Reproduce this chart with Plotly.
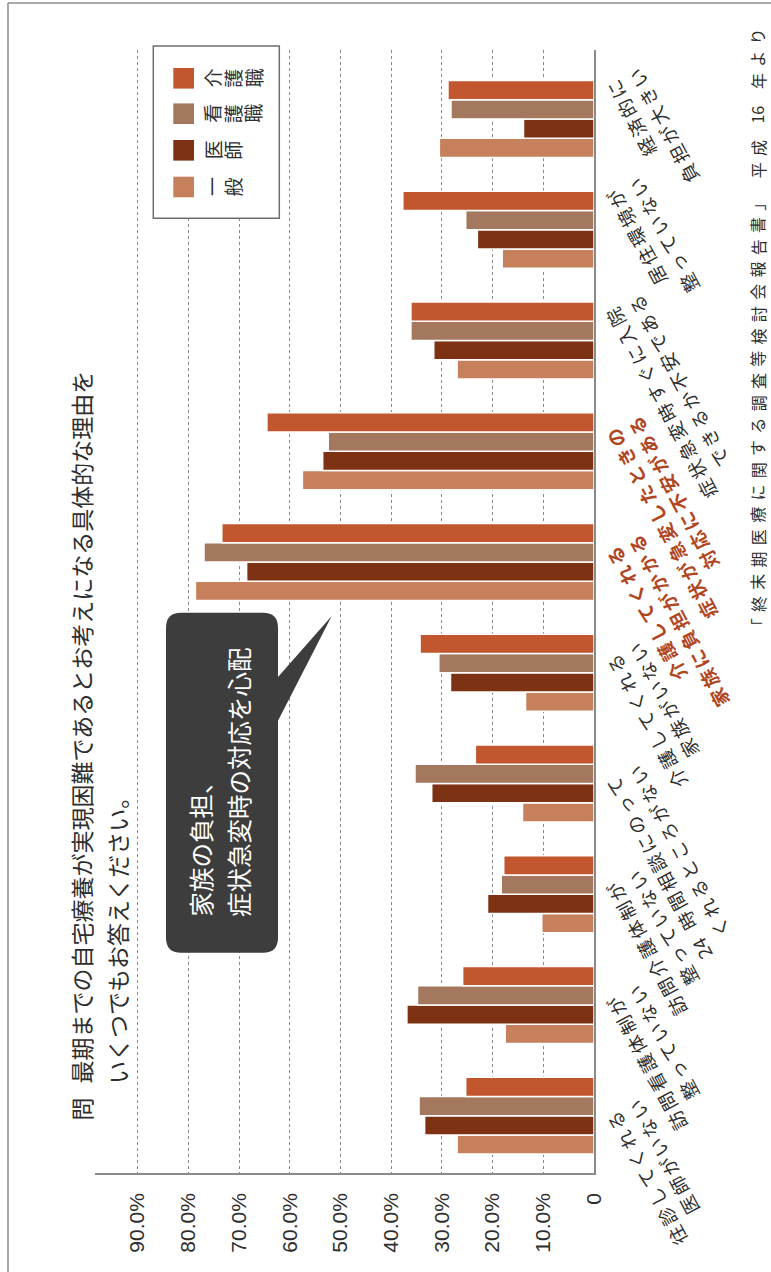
import math
import plotly.graph_objects as go

# ---- data -------------------------------------------------------------
categories = [
    "往診してくれる医師がいない",
    "訪問看護体制が整っていない",
    "訪問介護体制が整っていない",
    "24 時間相談にのってくれるところがない",
    "介護してくれる家族がいない",
    "介護してくれる家族に負担がかかる",
    "症状が急変したときの対応に不安がある",
    "症状急変時すぐに入院できるか不安である",
    "居住環境が整っていない",
    "経済的に負担が大きい",
]
category_lines = [
    ["往診してくれる", "医師がいない"],
    ["訪問看護体制が", "整っていない"],
    ["訪問介護体制が", "整っていない"],
    ["24 時間相談にのって", "くれるところがない"],
    ["介護してくれる", "家族がいない"],
    ["介護してくれる", "家族に負担がかかる"],
    ["症状が急変したときの", "対応に不安がある"],
    ["症状急変時すぐに入院", "できるか不安である"],
    ["居住環境が", "整っていない"],
    ["経済的に", "負担が大きい"],
]
highlighted = ["介護してくれる家族に負担がかかる", "症状が急変したときの対応に不安がある"]

series_names = ["介護職", "看護職", "医師", "一般"]
kaigo = [25.3, 25.9, 17.8, 23.4, 34.3, 73.4, 64.5, 36.1, 37.7, 28.8]
kango = [34.5, 34.8, 18.3, 35.3, 30.6, 76.9, 52.4, 36.1, 25.3, 28.2]
ishi = [33.4, 36.9, 21.0, 32.0, 28.3, 68.5, 53.5, 31.6, 23.0, 13.9]
ippan = [27.0, 17.5, 10.3, 14.1, 13.5, 78.6, 57.5, 27.0, 18.1, 30.5]

tick_values = [0, 10, 20, 30, 40, 50, 60, 70, 80, 90]
tick_labels = ["0", "10.0%", "20.0%", "30.0%", "40.0%", "50.0%", "60.0%", "70.0%", "80.0%", "90.0%"]

title_mark = "問"
title_lines = ["最期までの自宅療養が実現困難であるとお考えになる具体的な理由を", "いくつでもお答えください。"]
callout_lines = ["家族の負担、", "症状急変時の対応を心配"]
source_note = "「終末期医療に関する調査等検討会報告書」 平成 16 年より"

# ---- styling ----------------------------------------------------------
W, H = 771, 1272
L, R, T, B = 95, 594, 50, 1173          # plot area in page pixels
colors = {"介護職": "#c1562f", "看護職": "#a3785e", "医師": "#7e3214", "一般": "#c6805c"}
JP = "Noto Sans CJK JP"
TEXT = "#2e2e2e"
RED = "#b0461f"

# slanted category captions: end of the first line relative to the axis / group centre
LABEL_ANGLE = -118
LABEL_PITCH = 21.5
LABEL_LEADING = 25
LABEL_DX = 22
label_end_dy = [6, 2, -2, 4, -8, -5, -13, -23, -30, -29]


def px(x):
    return (x - L) / (R - L)


def py(y):
    return (B - y) / (B - T)


def tokens_of(text):
    toks = []
    for ch in text:
        if ch.isascii() and ch.isdigit() and toks and toks[-1].isascii() and toks[-1].isdigit():
            toks[-1] += ch
        else:
            toks.append(ch)
    return toks


def token_width(tok):
    if tok == " ":
        return 0.4
    if tok.isascii():
        return 0.58 * len(tok)
    return 1.0


values = {"介護職": kaigo, "看護職": kango, "医師": ishi, "一般": ippan}

fig = go.Figure()
# first trace sits lowest inside each group
for name in reversed(series_names):
    fig.add_trace(go.Bar(
        y=categories, x=values[name], orientation="h", name=name,
        marker=dict(color=colors[name], line=dict(color="white", width=1.5)),
        showlegend=False, hoverinfo="skip",
    ))

shapes = []
annotations = []

# category captions, letter-spaced along a slanted baseline, lines aligned at their ends
th = math.radians(LABEL_ANGLE)
dx, dy = math.cos(th), math.sin(th)          # reading direction (screen, y down)
nx, ny = -math.sin(th), math.cos(th)         # direction of the following line
for cat, lines, end_dy in zip(categories, category_lines, label_end_dy):
    hot = cat in highlighted
    for j, line in enumerate(lines):
        toks = tokens_of(line)
        ex = LABEL_DX + j * LABEL_LEADING * nx + 0.5 * LABEL_PITCH * dx
        ey = end_dy + j * LABEL_LEADING * ny + 0.5 * LABEL_PITCH * dy
        back = 0.0
        for tok in reversed(toks):
            w = token_width(tok)
            back += w / 2
            cx = ex - back * LABEL_PITCH * dx
            cy = ey - back * LABEL_PITCH * dy
            back += w / 2
            if not tok.strip():
                continue
            annotations.append(dict(
                x=1, xref="paper", y=cat, yref="y", xanchor="center", yanchor="middle",
                xshift=cx, yshift=-cy, text=f"<b>{tok}</b>" if hot else tok,
                textangle=LABEL_ANGLE, showarrow=False,
                font=dict(family=JP, size=18.5, color=RED if hot else TEXT),
            ))

# legend box drawn in the rotated layout
shapes.append(dict(type="rect", xref="paper", yref="paper",
                   x0=px(153.3), x1=px(279.3), y0=py(218.3), y1=py(46),
                   line=dict(color="#6e6e6e", width=1.5), fillcolor="white", layer="above"))
row_centres = [78.3, 113.7, 150.3, 187.0]
for name, yc in zip(series_names, row_centres):
    shapes.append(dict(type="rect", xref="paper", yref="paper",
                       x0=px(173.3), x1=px(194), y0=py(yc + 10.3), y1=py(yc - 10.3),
                       line=dict(width=0), fillcolor=colors[name], layer="above"))
    for k, ch in enumerate(name):
        annotations.append(dict(
            x=px(212 + 20.5 * k), y=py(yc), xref="paper", yref="paper",
            text=ch, textangle=-90, showarrow=False, xanchor="center", yanchor="middle",
            font=dict(family=JP, size=19, color=TEXT),
        ))

# speech bubble
x0, x1, y0, y1, r = 166, 278, 612.7, 952.7, 15
pts = [
    ("M", x0 + r, y0), ("L", x1 - r, y0), ("Q", x1, y0, x1, y0 + r),
    ("L", x1, 677), ("L", 331.7, 616), ("L", x1, 720.7),
    ("L", x1, y1 - r), ("Q", x1, y1, x1 - r, y1),
    ("L", x0 + r, y1), ("Q", x0, y1, x0, y1 - r),
    ("L", x0, y0 + r), ("Q", x0, y0, x0 + r, y0),
]
path = ""
for p in pts:
    cmd, coords = p[0], p[1:]
    xy = []
    for i in range(0, len(coords), 2):
        xy.append(f"{px(coords[i]):.5f},{py(coords[i + 1]):.5f}")
    path += cmd + " " + " ".join(xy) + " "
shapes.append(dict(type="path", path=path + "Z", xref="paper", yref="paper",
                   fillcolor="#3d3d3d", line=dict(width=0), layer="above"))
for xc, line in zip([200, 238], callout_lines):
    annotations.append(dict(
        x=px(xc), y=py(919), xref="paper", yref="paper", xanchor="center", yanchor="bottom",
        text=line, textangle=-90, showarrow=False,
        font=dict(family=JP, size=24.5, color="white"),
    ))

# question text
annotations.append(dict(
    x=px(80), y=py(1123), xref="paper", yref="paper", xanchor="center", yanchor="bottom",
    text=title_mark, textangle=-90, showarrow=False, font=dict(family=JP, size=23, color=TEXT)))
for xc, line in zip([80, 117], title_lines):
    annotations.append(dict(
        x=px(xc), y=py(1086), xref="paper", yref="paper", xanchor="center", yanchor="bottom",
        text=line, textangle=-90, showarrow=False, font=dict(family=JP, size=23, color=TEXT)))

# source note along the right edge, letter-spaced, reading upwards
pitch = 22.3
cursor = 638.0
for tok in tokens_of(source_note):
    w = (0.45 if tok == " " else 1.1 if tok.isascii() else 1.0) * pitch
    if tok.strip():
        annotations.append(dict(
            x=px(757.5), y=py(cursor - w / 2), xref="paper", yref="paper",
            xanchor="center", yanchor="middle", text=tok, textangle=-90, showarrow=False,
            font=dict(family=JP, size=16, color=TEXT)))
    cursor -= w

# page frame
shapes.append(dict(type="line", xref="paper", yref="paper", x0=px(8), x1=px(8), y0=py(3), y1=py(H),
                   line=dict(color="#8c8c8c", width=1.5)))
shapes.append(dict(type="line", xref="paper", yref="paper", x0=px(8), x1=px(W), y0=py(3), y1=py(3),
                   line=dict(color="#8c8c8c", width=1.5)))

fig.update_layout(
    width=W, height=H, autosize=False,
    margin=dict(l=L, r=W - R, t=T, b=H - B, pad=0),
    paper_bgcolor="white", plot_bgcolor="white",
    barmode="group", bargap=0.305, bargroupgap=0,
    shapes=shapes, annotations=annotations,
    xaxis=dict(
        range=[98.4, 0], tickvals=tick_values, ticktext=tick_labels, tickangle=-90,
        tickfont=dict(family="Liberation Sans", size=21, color=TEXT),
        showgrid=True, gridcolor="#8a8a8a", griddash="dot", gridwidth=1,
        showline=True, linecolor="#8a8a8a", linewidth=1.5, zeroline=False,
        ticks="", ticklabelstandoff=10,
    ),
    yaxis=dict(
        type="category", range=[-0.518, 9.623], showticklabels=False, showgrid=False,
        showline=True, linecolor="#8a8a8a", linewidth=1.5, side="right", zeroline=False, ticks="",
    ),
)

fig.write_html("out.html")
